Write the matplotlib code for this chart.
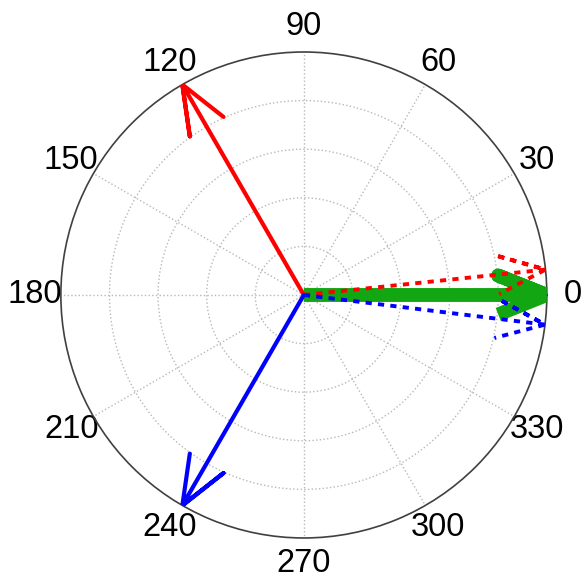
import numpy as np
import matplotlib
matplotlib.use('Agg')
import matplotlib.pyplot as plt

# phasors: magnitude and angle (degrees)
green_mag = [1.0]
green_ang = [0]
dotted_mag = [1.0, 1.0]
dotted_ang = [6, -7]
solid_mag = [1.0, 1.0]
solid_ang = [120, 240]

theta_ticks = list(range(0, 360, 30))
r_rings = [0.2, 0.4, 0.6, 0.8]

RED = '#ff0000'
BLUE = '#0000ff'
GREEN = '#12a612'


def arrow_path(mag, ang_deg):
    # compass style arrow: shaft, upper barb (out and back), lower barb
    z = np.array([0, 1, 0.8 + 0.08j, 1, 0.8 - 0.08j]) * mag * np.exp(1j * np.deg2rad(ang_deg))
    return np.angle(z), np.abs(z)


def main():
    plt.rcParams['font.family'] = ['Liberation Sans', 'DejaVu Sans']
    fig = plt.figure(figsize=(5.88, 5.80), dpi=100)
    ax = fig.add_axes([0.1035, 0.0724, 0.8265, 0.838], projection='polar')

    ax.set_ylim(0, 1)
    ax.set_thetagrids(theta_ticks, [str(t) for t in theta_ticks], fontsize=23.5)
    ax.set_rgrids(r_rings, labels=[''] * len(r_rings))
    ax.tick_params(axis='x', pad=8)
    ax.grid(True, color='#b8b8b8', linestyle=':', linewidth=1.0)
    ax.spines['polar'].set_color('#404040')
    ax.spines['polar'].set_linewidth(1.2)

    for m, a in zip(green_mag, green_ang):
        t, r = arrow_path(m, a)
        ax.plot(t, r, color=GREEN, lw=10, solid_capstyle='butt', solid_joinstyle='round', zorder=3)

    for m, a, c in zip(dotted_mag, dotted_ang, [RED, BLUE]):
        t, r = arrow_path(m, a)
        ax.plot(t, r, color=c, lw=2.8, linestyle=(0, (1.6, 1.6)), dash_capstyle='butt', zorder=4)

    for m, a, c in zip(solid_mag, solid_ang, [RED, BLUE]):
        t, r = arrow_path(m, a)
        ax.plot(t, r, color=c, lw=3.0, solid_capstyle='round', zorder=5)

    fig.savefig('out.png', dpi=100)


if __name__ == '__main__':
    main()
